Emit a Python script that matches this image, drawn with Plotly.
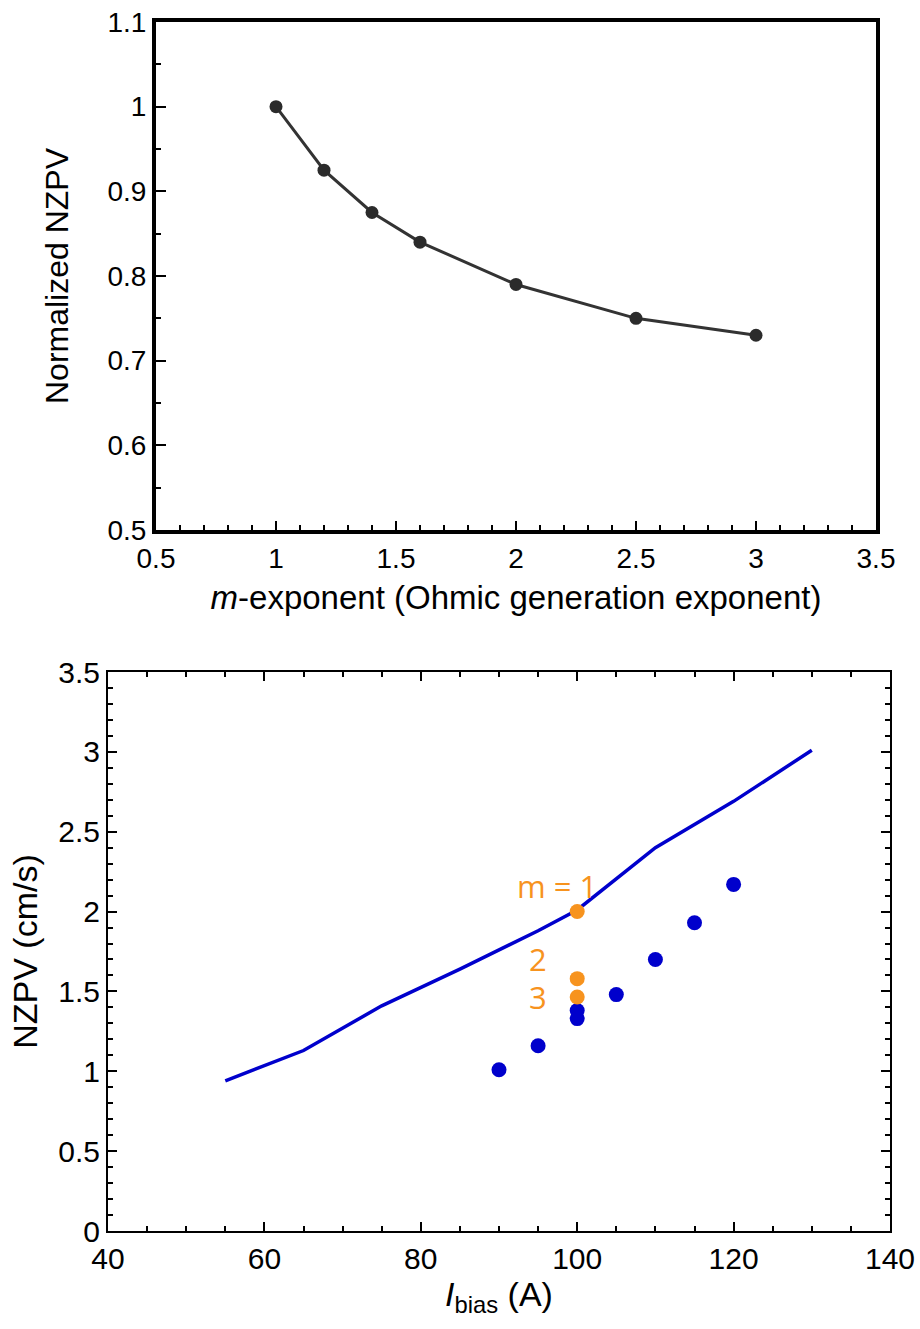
import plotly.graph_objects as go

# ---- top panel data ----
m_exp = [1.0, 1.2, 1.4, 1.6, 2.0, 2.5, 3.0]
norm_nzpv = [1.0, 0.925, 0.875, 0.84, 0.79, 0.75, 0.73]

# ---- bottom panel data ----
line_ibias = [55, 65, 75, 85, 95, 100, 110, 120, 130]
line_nzpv = [0.94, 1.13, 1.41, 1.64, 1.88, 2.01, 2.40, 2.69, 3.01]

dot_ibias = [90, 95, 100, 100, 105, 110, 115, 120]
dot_nzpv = [1.01, 1.16, 1.33, 1.38, 1.48, 1.70, 1.93, 2.17]

m_ibias = [100, 100, 100]
m_nzpv = [2.00, 1.58, 1.465]
m_labels = ["m = 1", "2", "3"]

W, H = 920, 1329
TICKFONT = "Liberation Sans Narrow, Arial Narrow, Liberation Sans, Arial, sans-serif"
TITLEFONT = "Liberation Sans, Arial, Helvetica, sans-serif"

fig = go.Figure()

fig.add_trace(go.Scatter(
    x=m_exp, y=norm_nzpv, mode="lines+markers",
    line=dict(color="#333333", width=3),
    marker=dict(color="#2b2b2b", size=13),
    xaxis="x", yaxis="y", showlegend=False))

fig.add_trace(go.Scatter(
    x=line_ibias, y=line_nzpv, mode="lines",
    line=dict(color="#0000CC", width=3.5),
    xaxis="x2", yaxis="y2", showlegend=False))

fig.add_trace(go.Scatter(
    x=dot_ibias, y=dot_nzpv, mode="markers",
    marker=dict(color="#0000CC", size=15),
    xaxis="x2", yaxis="y2", showlegend=False))

fig.add_trace(go.Scatter(
    x=m_ibias, y=m_nzpv, mode="markers",
    marker=dict(color="#F7931E", size=15),
    xaxis="x2", yaxis="y2", showlegend=False))

shifts = [(22, 26), (-28, 20), (-28, 0)]
for xv, yv, txt, (dx, dy) in zip(m_ibias, m_nzpv, m_labels, shifts):
    fig.add_annotation(x=xv, y=yv, xref="x2", yref="y2", text=txt,
                       showarrow=False, xanchor="right", yanchor="middle",
                       xshift=dx, yshift=dy,
                       font=dict(family="Open Sans, Lato, sans-serif", size=31, color="#F7931E"))

# domains in paper coords
def xd(a, b):
    return [a / W, b / W]

def yd(top, bottom):
    return [1 - bottom / H, 1 - top / H]

common = dict(showgrid=False, zeroline=False, automargin=False)

fig.update_layout(
    width=W, height=H,
    margin=dict(l=0, r=0, t=0, b=0),
    paper_bgcolor="white", plot_bgcolor="white",
    xaxis=dict(
        domain=xd(156, 876), range=[0.5, 3.5], anchor="y",
        showline=True, linecolor="black", linewidth=4, mirror=True,
        tickmode="linear", tick0=0.5, dtick=0.5,
        ticks="inside", ticklen=9, tickwidth=1.5, tickcolor="black",
        minor=dict(dtick=0.1, ticks="inside", ticklen=5, tickwidth=1.5, tickcolor="black"),
        tickfont=dict(family=TICKFONT, size=28, color="black"),
        title=dict(text="<i>m</i>-exponent (Ohmic generation exponent)",
                   font=dict(family=TICKFONT, size=33, color="black"), standoff=14),
        **common,
    ),
    yaxis=dict(
        domain=yd(22, 530), range=[0.5, 1.1], anchor="x",
        showline=True, linecolor="black", linewidth=4, mirror=True,
        tickmode="linear", tick0=0.5, dtick=0.1,
        ticks="inside", ticklen=10, tickwidth=1.5, tickcolor="black",
        minor=dict(dtick=0.05, ticks="inside", ticklen=5, tickwidth=1.5, tickcolor="black"),
        tickfont=dict(family=TICKFONT, size=28, color="black"),
        title=dict(text="Normalized NZPV",
                   font=dict(family=TICKFONT, size=32, color="black"), standoff=30),
        **common,
    ),
    xaxis2=dict(
        domain=xd(108, 890), range=[40, 140], anchor="y2",
        showline=True, linecolor="black", linewidth=2, mirror="ticks",
        tickmode="linear", tick0=40, dtick=20,
        ticks="inside", ticklen=9, tickwidth=1.5, tickcolor="black",
        minor=dict(dtick=5, ticks="inside", ticklen=5, tickwidth=1.5, tickcolor="black"),
        tickfont=dict(family=TICKFONT, size=30, color="black"),
        title=dict(text="<i>I</i><sub>bias</sub> (A)",
                   font=dict(family=TITLEFONT, size=34, color="black"), standoff=6),
        **common,
    ),
    yaxis2=dict(
        domain=yd(672, 1231), range=[0, 3.5], anchor="x2",
        showline=True, linecolor="black", linewidth=2, mirror="ticks",
        tickmode="linear", tick0=0, dtick=0.5,
        ticks="inside", ticklen=9, tickwidth=1.5, tickcolor="black",
        minor=dict(dtick=0.1, ticks="inside", ticklen=5, tickwidth=1.5, tickcolor="black"),
        tickfont=dict(family=TICKFONT, size=30, color="black"),
        title=dict(text="NZPV (cm/s)",
                   font=dict(family=TITLEFONT, size=34, color="black"), standoff=10),
        **common,
    ),
)

fig.write_html("out.html")
